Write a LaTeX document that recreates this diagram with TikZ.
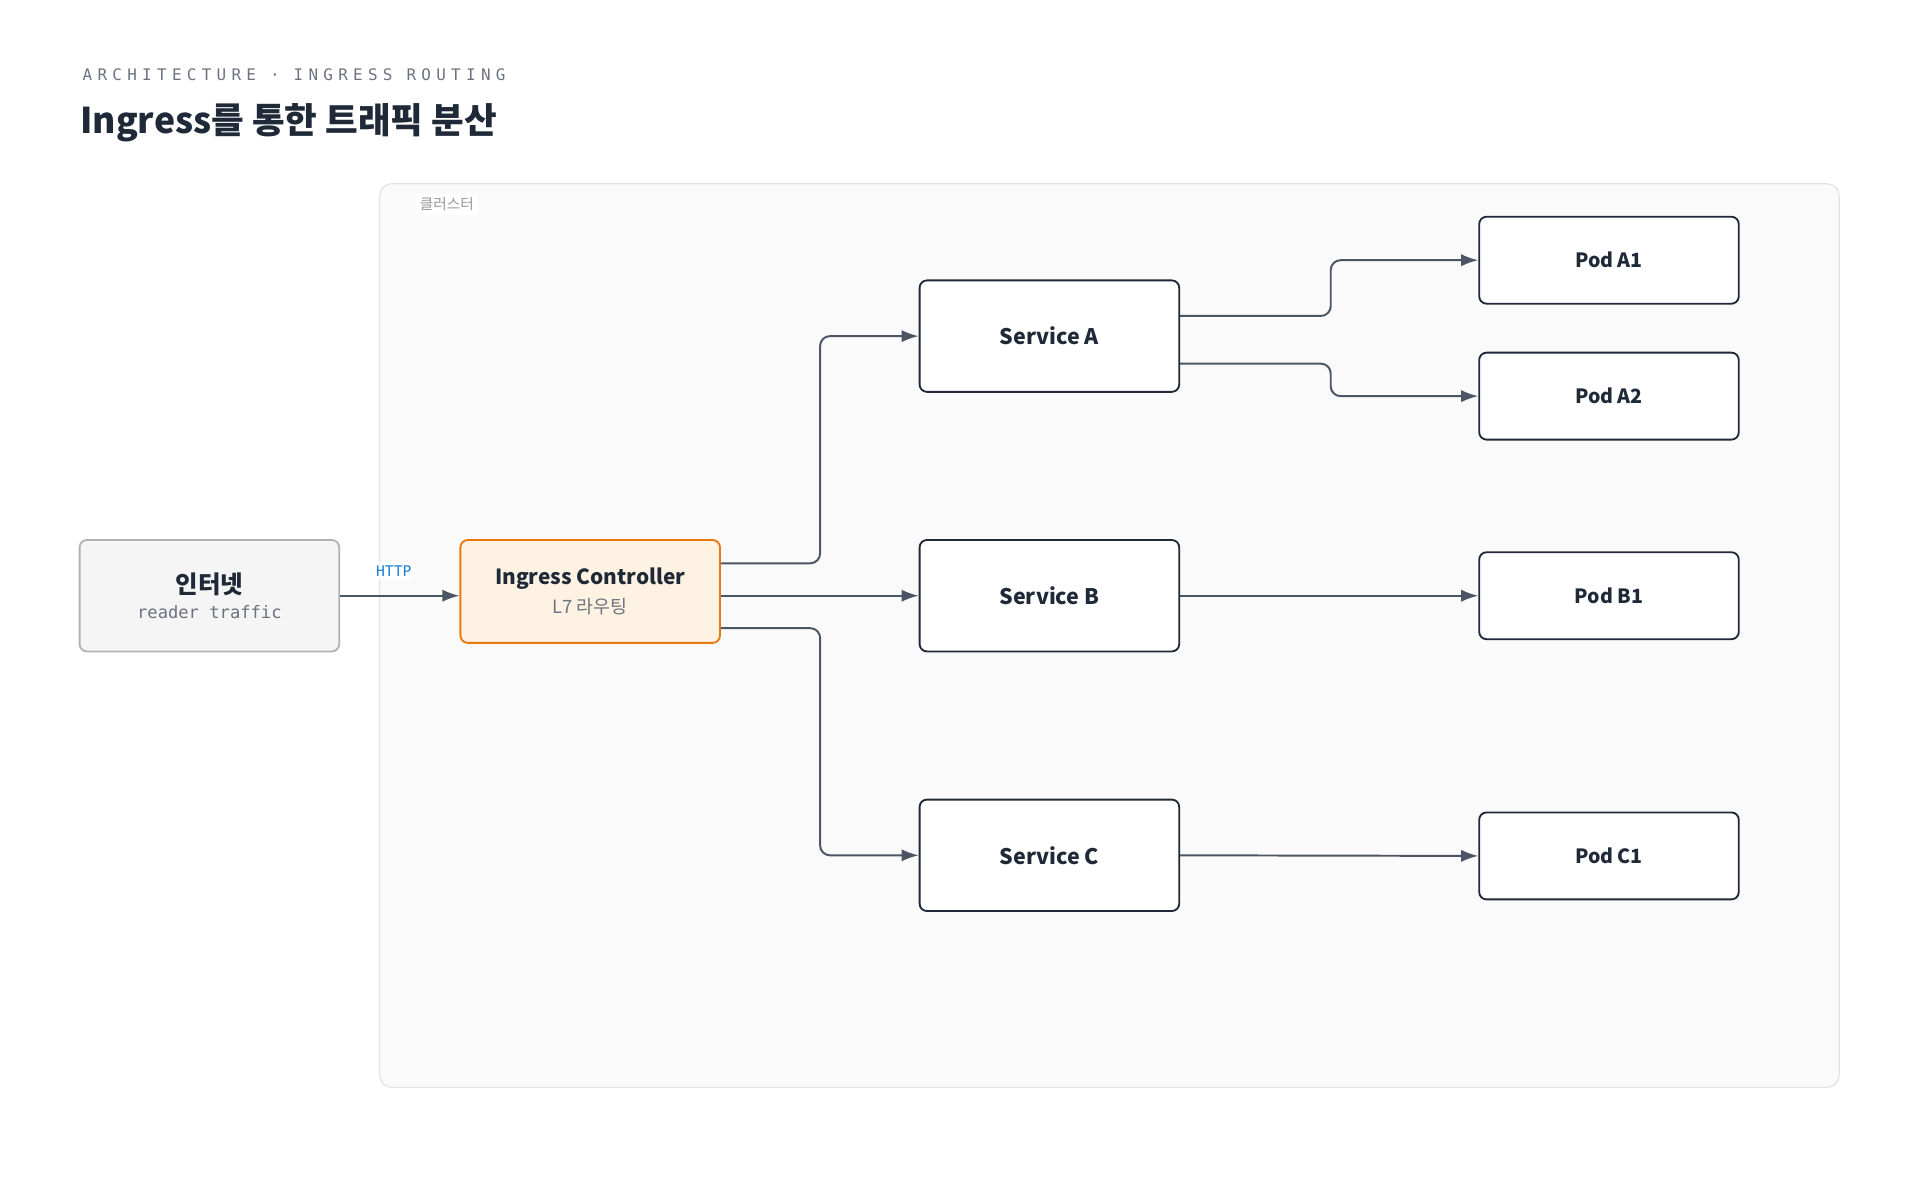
\documentclass[tikz,border=0pt]{standalone}
\usepackage{fontspec}
\setmainfont{Noto Sans CJK KR}
\setmonofont{DejaVu Sans Mono}
\usetikzlibrary{arrows.meta, positioning, calc}
\definecolor{inkdark}{HTML}{1F2937}
\definecolor{wiregray}{HTML}{4B5563}
\definecolor{labelgray}{HTML}{6B7280}
\definecolor{clusterfill}{HTML}{FAFAFA}
\definecolor{clusterline}{HTML}{E3E3E3}
\definecolor{ingfill}{HTML}{FEF3E2}
\definecolor{ingline}{HTML}{E8790F}
\definecolor{httpblue}{HTML}{1A7FD4}

\tikzset{
  box/.style={draw=inkdark, line width=1.5pt, fill=white, rounded corners=6pt, minimum width=212pt, font=\fontsize{17.5}{20}\selectfont\bfseries, text=inkdark},
  podbox/.style={box, minimum height=71pt, font=\fontsize{16}{18}\selectfont\bfseries},
  svcbox/.style={box, minimum height=91pt},
  wire/.style={draw=wiregray, line width=1.6pt, rounded corners=8pt, -{Latex[length=14pt,width=10pt]}}
}

\begin{document}
\begin{tikzpicture}[x=1pt, y=1pt]
  \useasboundingbox (0,0) rectangle (1568,-980);

  % heading
  \node[anchor=west, font=\ttfamily\fontsize{13}{14}\selectfont, text=labelgray] (kicker) at (64,-61) {A\,\,R\,\,C\,\,H\,\,I\,\,T\,\,E\,\,C\,\,T\,\,U\,\,R\,\,E \;·\; I\,\,N\,\,G\,\,R\,\,E\,\,S\,\,S \;R\,\,O\,\,U\,\,T\,\,I\,\,N\,\,G};
  \node[anchor=west, font=\fontsize{29}{32}\selectfont\bfseries, text=inkdark] (title) at (62,-100) {Ingress를 통한 트래픽 분산};

  % cluster
  \draw[draw=clusterline, fill=clusterfill, line width=1pt, rounded corners=10pt] (310,-150) rectangle (1502,-888);
  \node[fill=white, inner sep=3pt, font=\fontsize{12}{13}\selectfont, text=gray!80] (clabel) at (365,-167) {클러스터};

  % nodes
  \node[draw=gray!60, line width=1.5pt, fill=gray!8, rounded corners=6pt, minimum width=212pt, minimum height=91pt, align=center] (net) at (171,-486.5)
    {{\fontsize{20}{22}\selectfont\bfseries\color{inkdark}인터넷}\\[7pt]{\ttfamily\fontsize{14}{16}\selectfont\color{labelgray}reader traffic}};
  \node[draw=ingline, line width=1.5pt, fill=ingfill, rounded corners=6pt, minimum width=212pt, minimum height=84pt, align=center] (ing) at (482,-483)
    {{\fontsize{17}{19}\selectfont\bfseries\color{inkdark}Ingress Controller}\\[6pt]{\fontsize{15}{17}\selectfont\color{labelgray}L7 라우팅}};

  \node[svcbox] (sa) at (857,-274.5) {Service A};
  \node[svcbox] (sb) at (857,-486.5) {Service B};
  \node[svcbox] (sc) at (857,-698.5) {Service C};

  \node[podbox] (pa1) at (1314,-212.5) {Pod A1};
  \node[podbox] (pa2) at (1314,-323.5) {Pod A2};
  \node[podbox] (pb1) at (1314,-486.5) {Pod B1};
  \node[podbox] (pc1) at (1314,-699) {Pod C1};

  % connectors
  \draw[wire] (net.east) -- (ing.west |- net.east) node[pos=0.45, above=12pt, fill=white, inner sep=3pt, font=\ttfamily\fontsize{12}{13}\selectfont, text=httpblue] (http) {HTTP};
  \draw[wire] ([yshift=23pt]ing.east) -- ++(81,0) |- (sa.west);
  \draw[wire] (ing.east |- sb.west) -- (sb.west);
  \draw[wire] ([yshift=-30pt]ing.east) -- ++(81,0) |- (sc.west);
  \draw[wire] ([yshift=16.5pt]sa.east) -- ++(123,0) |- (pa1.west);
  \draw[wire] ([yshift=-22.5pt]sa.east) -- ++(123,0) |- (pa2.west);
  \draw[wire] (sb.east) -- (pb1.west);
  \draw[wire] (sc.east) -- (pc1.west);
\end{tikzpicture}
\end{document}
